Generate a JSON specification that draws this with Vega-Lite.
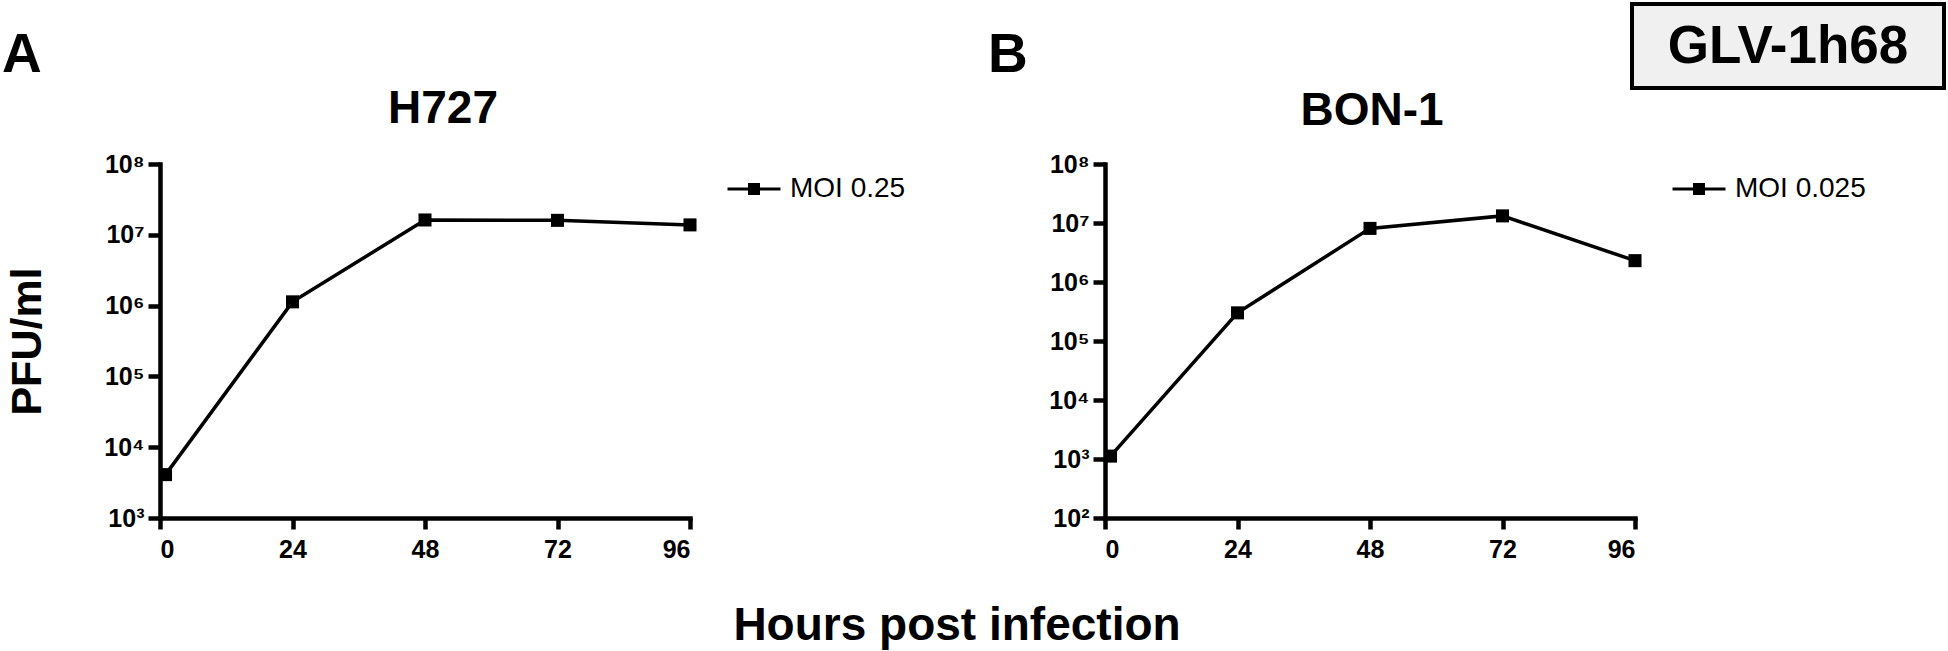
{
  "$schema": "https://vega.github.io/schema/vega-lite/v6.json",
  "autosize": {"type": "none"},
  "padding": {"left": 160, "top": 164, "right": 1788, "bottom": 487},
  "background": "white",
  "config": {
    "font": "Liberation Sans",
    "view": {"stroke": null},
    "axis": {
      "domainColor": "black", "domainWidth": 4.5, "domainCap": "square",
      "tickColor": "black", "tickWidth": 4.5,
      "labelFont": "Liberation Sans", "labelFontWeight": "bold", "labelFontSize": 25, "labelColor": "black",
      "grid": false, "titleColor": "black"
    }
  },
  "title": {"text": "Hours post infection", "orient": "bottom", "anchor": "middle", "frame": "bounds", "fontSize": 46, "fontWeight": "bold", "color": "black", "baseline": "alphabetic", "offset": 78, "dx": -17, "font": "Liberation Sans"},
  "bounds": "flush",
  "spacing": 415,
  "resolve": {"scale": {"y": "independent", "color": "independent"}, "legend": {"color": "independent"}},
  "hconcat": [
    {
      "width": 530, "height": 354,
      "title": {"text": "H727", "fontSize": 46, "fontWeight": "bold", "anchor": "middle", "frame": "group", "baseline": "alphabetic", "offset": -141, "dx": 18, "color": "black", "font": "Liberation Sans"},
      "data": {"values": [
        {"hours": 1, "pfu": 4100, "series": "MOI 0.25"},
        {"hours": 24, "pfu": 1130000, "series": "MOI 0.25"},
        {"hours": 48, "pfu": 16200000, "series": "MOI 0.25"},
        {"hours": 72, "pfu": 16000000, "series": "MOI 0.25"},
        {"hours": 96, "pfu": 13800000, "series": "MOI 0.25"}
      ]},
      "encoding": {
        "x": {"field": "hours", "type": "quantitative", "scale": {"domain": [0, 96], "nice": false, "zero": false},
              "axis": {"values": [0, 24, 48, 72, 96], "title": null, "tickSize": 11, "labelPadding": 8}},
        "y": {"field": "pfu", "type": "quantitative", "scale": {"type": "log", "domain": [1000, 100000000], "nice": false},
              "axis": {"values": [1000, 10000, 100000, 1000000, 10000000, 100000000], "tickSize": 12, "labelPadding": 4,
                       "labelExpr": "'10' + ['⁰','¹','²','³','⁴','⁵','⁶','⁷','⁸','⁹'][round(log(datum.value)/LN10)]",
                       "title": "PFU/ml", "titleFontSize": 43, "titleFontWeight": "bold", "titleFont": "Liberation Sans",
                       "titleX": -120, "titleY": 177, "titleAngle": 270, "titleBaseline": "alphabetic", "titleAlign": "center"}}
      },
      "layer": [
        {"mark": {"type": "line", "color": "black", "strokeWidth": 3.5}},
        {"mark": {"type": "point", "shape": "square", "filled": true, "size": 170, "opacity": 1},
         "encoding": {"color": {"field": "series", "type": "nominal", "scale": {"range": ["black"]},
           "legend": {"orient": "none", "legendX": 566, "legendY": -3, "title": null, "padding": 0,
                      "symbolSize": 2809, "symbolType": "M-1,0H1M-0.17,-0.17H0.17V0.17H-0.17Z",
                      "labelFontSize": 28, "labelFont": "Liberation Sans", "labelColor": "black", "labelOffset": 8,
                      "symbolStrokeWidth": 3, "symbolFillColor": "black", "symbolStrokeColor": "black",
                      "encode": {"symbols": {"update": {"fill": {"value": "black"}, "stroke": {"value": "black"}, "strokeWidth": {"value": 3}, "size": {"value": 2809}, "shape": {"value": "M-1,0H1M-0.17,-0.17H0.17V0.17H-0.17Z"}, "opacity": {"value": 1}}}}}}}},
        {"data": {"values": [{"t": "A"}]},
         "mark": {"type": "text", "x": -158, "y": -92, "align": "left", "baseline": "alphabetic", "fontSize": 55, "fontWeight": "bold", "color": "black", "font": "Liberation Sans"},
         "encoding": {"text": {"field": "t"}, "x": null, "y": null}}
      ]
    },
    {
      "width": 530, "height": 354,
      "title": {"text": "BON-1", "fontSize": 46, "fontWeight": "bold", "anchor": "middle", "frame": "group", "baseline": "alphabetic", "offset": -169, "dx": 2, "color": "black", "font": "Liberation Sans"},
      "data": {"values": [
        {"hours": 1, "pfu": 1120, "series": "MOI 0.025"},
        {"hours": 24, "pfu": 300000, "series": "MOI 0.025"},
        {"hours": 48, "pfu": 8100000, "series": "MOI 0.025"},
        {"hours": 72, "pfu": 13200000, "series": "MOI 0.025"},
        {"hours": 96, "pfu": 2300000, "series": "MOI 0.025"}
      ]},
      "encoding": {
        "x": {"field": "hours", "type": "quantitative", "scale": {"domain": [0, 96], "nice": false, "zero": false},
              "axis": {"values": [0, 24, 48, 72, 96], "title": null, "tickSize": 11, "labelPadding": 8}},
        "y": {"field": "pfu", "type": "quantitative", "scale": {"type": "log", "domain": [100, 100000000], "nice": false},
              "axis": {"values": [100, 1000, 10000, 100000, 1000000, 10000000, 100000000], "tickSize": 12, "labelPadding": 4,
                       "labelExpr": "'10' + ['⁰','¹','²','³','⁴','⁵','⁶','⁷','⁸','⁹'][round(log(datum.value)/LN10)]",
                       "title": null}}
      },
      "layer": [
        {"mark": {"type": "line", "color": "black", "strokeWidth": 3.5}},
        {"mark": {"type": "point", "shape": "square", "filled": true, "size": 170, "opacity": 1},
         "encoding": {"color": {"field": "series", "type": "nominal", "scale": {"range": ["black"]},
           "legend": {"orient": "none", "legendX": 566, "legendY": -3, "title": null, "padding": 0,
                      "symbolSize": 2809, "symbolType": "M-1,0H1M-0.17,-0.17H0.17V0.17H-0.17Z",
                      "labelFontSize": 28, "labelFont": "Liberation Sans", "labelColor": "black", "labelOffset": 8,
                      "symbolStrokeWidth": 3, "symbolFillColor": "black", "symbolStrokeColor": "black",
                      "encode": {"symbols": {"update": {"fill": {"value": "black"}, "stroke": {"value": "black"}, "strokeWidth": {"value": 3}, "size": {"value": 2809}, "shape": {"value": "M-1,0H1M-0.17,-0.17H0.17V0.17H-0.17Z"}, "opacity": {"value": 1}}}}}}}},
        {"data": {"values": [{"t": "B"}]},
         "mark": {"type": "text", "x": -117, "y": -92, "align": "left", "baseline": "alphabetic", "fontSize": 55, "fontWeight": "bold", "color": "black", "font": "Liberation Sans"},
         "encoding": {"text": {"field": "t"}, "x": null, "y": null}},
        {"data": {"values": [{"t": "GLV-1h68"}]},
         "mark": {"type": "rect", "x": 527, "x2": 839, "y": -160, "y2": -76, "fill": "#f0f0f0", "stroke": "black", "strokeWidth": 4},
         "encoding": {"x": null, "y": null}},
        {"data": {"values": [{"t": "GLV-1h68"}]},
         "mark": {"type": "text", "x": 683, "y": -101, "align": "center", "baseline": "alphabetic", "fontSize": 53, "fontWeight": "bold", "color": "black", "font": "Liberation Sans"},
         "encoding": {"text": {"field": "t"}, "x": null, "y": null}}
      ]
    }
  ]
}
